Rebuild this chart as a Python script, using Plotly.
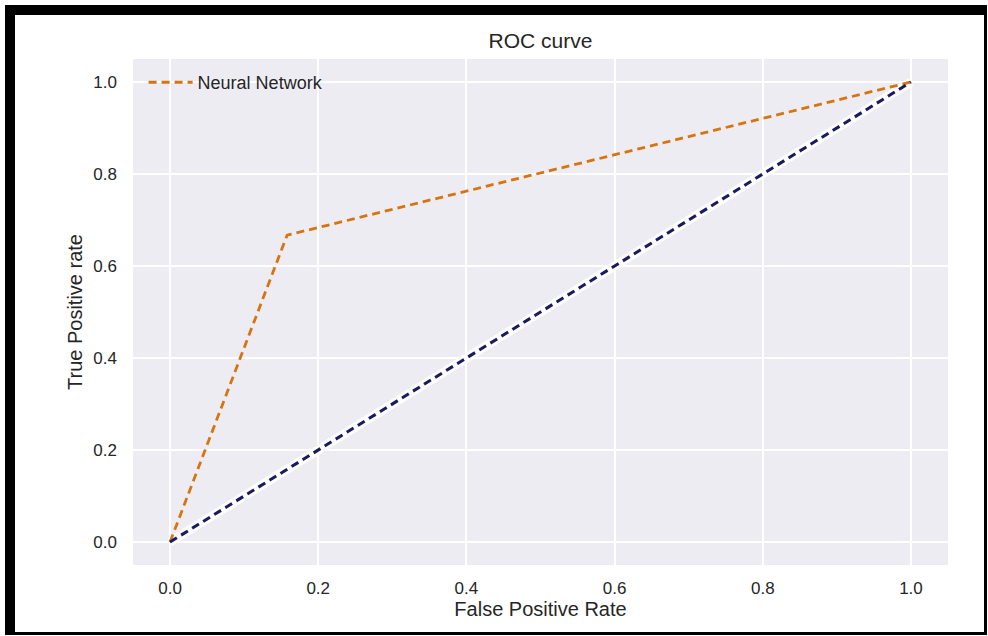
import plotly.graph_objects as go

fpr = [0.0, 0.158, 1.0]
tpr = [0.0, 0.667, 1.0]
diag_x = [0.0, 1.0]
diag_y = [0.0, 1.0]
tick_vals = [0.0, 0.2, 0.4, 0.6, 0.8, 1.0]
tick_text = ["0.0", "0.2", "0.4", "0.6", "0.8", "1.0"]

W, H = 988, 636
L, R, T, B = 133, 40, 59, 71
pw, ph = W - L - R, H - T - B

def px(x):
    return (x - L) / pw

def py(y):
    return (H - B - y) / ph

fig = go.Figure()
# soft halo under the diagonal
fig.add_trace(go.Scatter(x=diag_x, y=diag_y, mode="lines",
                         line=dict(color="rgba(255,255,255,0.9)", width=9),
                         showlegend=False, hoverinfo="skip"))
fig.add_trace(go.Scatter(x=fpr, y=tpr, mode="lines", name="Neural Network",
                         line=dict(color="#d8740f", width=2.8, dash="8px,5px")))
fig.add_trace(go.Scatter(x=diag_x, y=diag_y, mode="lines", showlegend=False,
                         line=dict(color="#1a1a5e", width=3, dash="8px,5px")))

shapes = []
for (x0, y0, x1, y1) in [(5, 5, 987, 15), (5, 5, 15, 635), (984, 5, 987, 635), (5, 632, 987, 635)]:
    shapes.append(dict(type="rect", xref="paper", yref="paper",
                       x0=px(x0), x1=px(x1), y0=py(y1), y1=py(y0),
                       fillcolor="black", line=dict(width=0), layer="above"))

font = "Liberation Sans, Arial, sans-serif"
fig.update_layout(
    width=W, height=H,
    margin=dict(l=L, r=R, t=T, b=B),
    paper_bgcolor="white", plot_bgcolor="#edecf3",
    font=dict(family=font, size=17, color="#262626"),
    title=dict(text="ROC curve", x=0.5, xanchor="center", xref="paper",
               y=1 - 41 / H, yanchor="middle", font=dict(size=21, color="#262626")),
    xaxis=dict(range=[-0.05, 1.05], tickvals=tick_vals, ticktext=tick_text,
               showgrid=True, gridcolor="white", gridwidth=1.5, zeroline=False,
               showline=False, ticks="", ticklabelstandoff=11,
               title=dict(text="False Positive Rate", standoff=4, font=dict(size=20))),
    yaxis=dict(range=[-0.05, 1.05], tickvals=tick_vals, ticktext=tick_text,
               showgrid=True, gridcolor="white", gridwidth=1.5, zeroline=False,
               showline=False, ticks="", ticklabelstandoff=15,
               title=dict(text="True Positive rate", standoff=5, font=dict(size=20))),
    legend=dict(x=0.013, y=0.99, xanchor="left", yanchor="top", itemwidth=44,
                bgcolor="rgba(0,0,0,0)", font=dict(size=18, color="#262626")),
    shapes=shapes,
)

fig.write_html("out.html", config={"displayModeBar": False},
               post_script="document.body.style.margin='0';")
